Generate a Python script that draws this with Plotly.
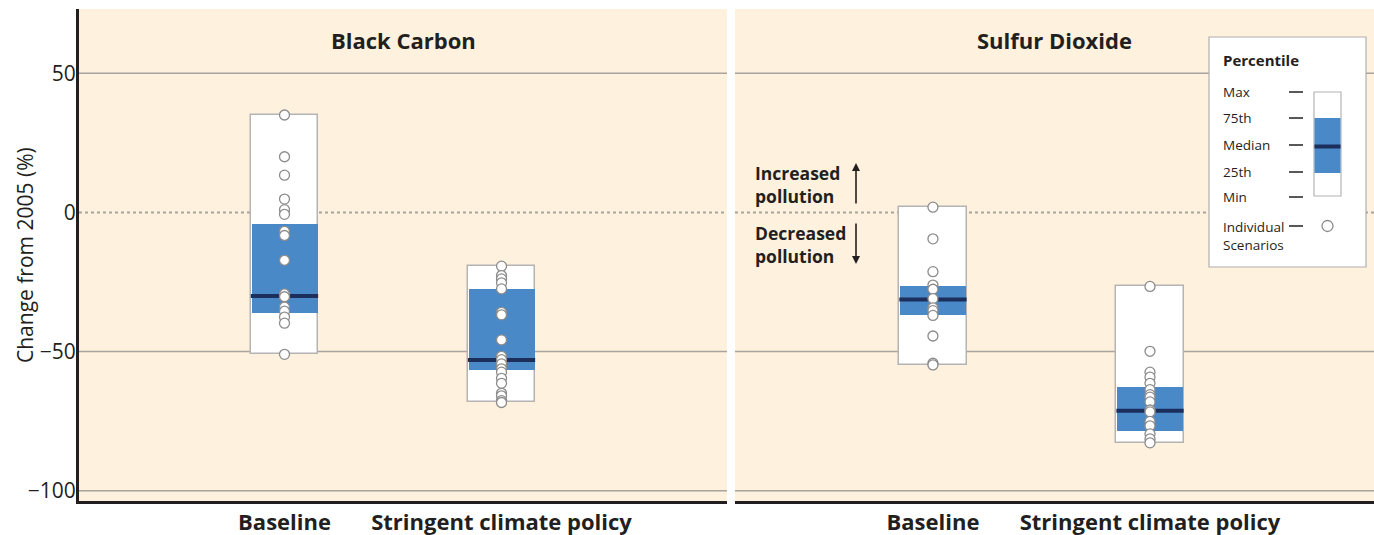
import plotly.graph_objects as go

# ---- data -------------------------------------------------------------
PANELS = ["Black Carbon", "Sulfur Dioxide"]
CATEGORIES = ["Baseline", "Stringent climate policy"]
Y_TITLE = "Change from 2005 (%)"

# percentile summaries per panel: [baseline, stringent]
BC_MIN = [-51, -68]
BC_P25 = [-36, -56.5]
BC_MED = [-30, -53]
BC_P75 = [-4, -27.5]
BC_MAX = [35, -19.3]

SO2_MIN = [-54.8, -82.8]
SO2_P25 = [-36.9, -78.7]
SO2_MED = [-31.3, -71.3]
SO2_P75 = [-26.4, -62.6]
SO2_MAX = [1.9, -26.6]

# individual scenarios
BC_BASELINE = [35, 20, 13.4, 4.8, 1.0, -0.7, -6.8, -8.3, -17.2, -29.3, -30.3,
               -34, -35.5, -37.6, -39.8, -51]
BC_STRINGENT = [-19.3, -22.7, -23.9, -25.3, -27.5, -35.9, -36.8, -45.8, -51.7,
                -52.9, -54.4, -56.2, -57.4, -59.6, -61.4, -65, -65.9, -67.6, -68.3]
SO2_BASELINE = [1.9, -9.5, -21.3, -26.1, -27.6, -31, -34.3, -35.3, -37, -44.4,
                -54.2, -54.8]
SO2_STRINGENT = [-26.6, -49.9, -57.4, -59.2, -61.4, -63.7, -65.5, -66.4, -68.1,
                 -71, -71.7, -75.1, -76.7, -79.6, -81.4, -82.8]

Y_TICKS = [-100, -50, 0, 50]
Y_TICK_TEXT = ["\u2212100", "\u221250", "0", "50"]
Y_RANGE = [-103.7, 73.1]

# ---- style ------------------------------------------------------------
FONT = "Open Sans"
TEXT = "#231f20"
CREAM = "#fef1dd"
BLUE = "#4a89c8"
NAVY = "#1c2f5c"
GRID = "#a8a49e"
DOT_EDGE = "#8c8c8c"
BOX_EDGE = "#b4b4b4"
BOX_W = 0.31

W, H = 1374, 535
ML, MR, MT, MB = 79, 0, 9, 34
PW, PH = W - ML - MR, H - MT - MB


def px(x):
    return (x - ML) / PW


def py(y):
    return (H - MB - y) / PH


fig = go.Figure()

panels = [
    ("x", "y", BC_MIN, BC_P25, BC_MED, BC_P75, BC_MAX, [BC_BASELINE, BC_STRINGENT]),
    ("x2", "y2", SO2_MIN, SO2_P25, SO2_MED, SO2_P75, SO2_MAX, [SO2_BASELINE, SO2_STRINGENT]),
]

for xa, ya, lo, q1, med, q3, hi, pts in panels:
    xs = list(range(len(CATEGORIES)))
    # full range (min to max) box
    fig.add_trace(go.Bar(
        x=xs, y=[h - l for h, l in zip(hi, lo)], base=lo, width=BOX_W,
        marker=dict(color="white", line=dict(color=BOX_EDGE, width=1.5)),
        xaxis=xa, yaxis=ya, showlegend=False, hoverinfo="skip"))
    # interquartile box
    fig.add_trace(go.Bar(
        x=xs, y=[b - a for b, a in zip(q3, q1)], base=q1, width=BOX_W - 0.006,
        marker=dict(color=BLUE, line=dict(width=0)),
        xaxis=xa, yaxis=ya, showlegend=False, hoverinfo="skip"))
    # median bars
    mx, my = [], []
    for i, m in enumerate(med):
        mx += [i - BOX_W / 2, i + BOX_W / 2, None]
        my += [m, m, None]
    fig.add_trace(go.Scatter(
        x=mx, y=my, mode="lines", line=dict(color=NAVY, width=4),
        xaxis=xa, yaxis=ya, showlegend=False, hoverinfo="skip"))
    # individual scenarios
    for i, vals in enumerate(pts):
        fig.add_trace(go.Scatter(
            x=[i] * len(vals), y=vals, mode="markers",
            marker=dict(size=10, color="white", line=dict(color=DOT_EDGE, width=1.3)),
            xaxis=xa, yaxis=ya, showlegend=False))

shapes = []
# horizontal reference lines behind the boxes
for xr, yr in [("x domain", "y"), ("x2 domain", "y2")]:
    for v in Y_TICKS:
        shapes.append(dict(
            type="line", xref=xr, yref=yr, x0=0, x1=1, y0=v, y1=v, layer="below",
            line=dict(color=GRID, width=1.5 if v != 0 else 2,
                      dash="dot" if v == 0 else "solid")))

# key box
shapes.append(dict(type="rect", xref="paper", yref="paper",
                   x0=px(1209), x1=px(1366), y0=py(267), y1=py(37),
                   fillcolor="white", line=dict(color="#b0b0b0", width=1.2)))
shapes.append(dict(type="rect", xref="paper", yref="paper",
                   x0=px(1314), x1=px(1341), y0=py(196), y1=py(92),
                   fillcolor="white", line=dict(color=BOX_EDGE, width=1.2)))
shapes.append(dict(type="rect", xref="paper", yref="paper",
                   x0=px(1314.5), x1=px(1340.5), y0=py(173), y1=py(118),
                   fillcolor=BLUE, line=dict(width=0)))
shapes.append(dict(type="line", xref="paper", yref="paper",
                   x0=px(1314.5), x1=px(1340.5), y0=py(146.5), y1=py(146.5),
                   line=dict(color=NAVY, width=4)))
KEY_ROWS = [("Max", 92), ("75th", 118), ("Median", 145), ("25th", 172), ("Min", 197)]
for _, yy in KEY_ROWS + [("", 226)]:
    shapes.append(dict(type="line", xref="paper", yref="paper",
                       x0=px(1289), x1=px(1303), y0=py(yy), y1=py(yy),
                       line=dict(color=TEXT, width=1.5)))
shapes.append(dict(type="circle", xref="paper", yref="paper",
                   x0=px(1322), x1=px(1333), y0=py(231.5), y1=py(220.5),
                   fillcolor="white", line=dict(color=DOT_EDGE, width=1.3)))

annotations = []
for xr, title in [("x domain", PANELS[0]), ("x2 domain", PANELS[1])]:
    annotations.append(dict(
        xref=xr, yref="paper", x=0.5, y=py(39.5), text=f"<b>{title}</b>",
        showarrow=False, xanchor="center", yanchor="middle",
        font=dict(family=FONT, size=22, color=TEXT)))

# y-axis title
annotations.append(dict(
    xref="paper", yref="paper", x=px(25), y=py(255), text=Y_TITLE, textangle=-90,
    showarrow=False, xanchor="center", yanchor="middle",
    font=dict(family=FONT, size=21, color=TEXT)))

annotations.append(dict(
    xref="paper", yref="paper", x=px(1221), y=py(60), text="<b>Percentile</b>",
    showarrow=False, xanchor="left", yanchor="middle",
    font=dict(family=FONT, size=15, color=TEXT)))
for label, yy in KEY_ROWS:
    annotations.append(dict(
        xref="paper", yref="paper", x=px(1221), y=py(yy), text=label,
        showarrow=False, xanchor="left", yanchor="middle",
        font=dict(family=FONT, size=13.5, color=TEXT)))
annotations.append(dict(
    xref="paper", yref="paper", x=px(1221), y=py(236), text="Individual<br>Scenarios",
    showarrow=False, xanchor="left", yanchor="middle", align="left",
    font=dict(family=FONT, size=13.5, color=TEXT)))

# increased / decreased pollution note
for txt, yc in [("Increased<br>pollution", 185), ("Decreased<br>pollution", 245)]:
    annotations.append(dict(
        xref="paper", yref="paper", x=px(753), y=py(yc), text=f"<b>{txt}</b>",
        showarrow=False, xanchor="left", yanchor="middle", align="left",
        font=dict(family=FONT, size=17.5, color=TEXT)))
annotations.append(dict(
    xref="paper", yref="paper", x=px(856), y=py(163), ax=0, ay=42,
    text="", showarrow=True, arrowhead=2, arrowsize=1, arrowwidth=1.6,
    arrowcolor=TEXT))
annotations.append(dict(
    xref="paper", yref="paper", x=px(856), y=py(264), ax=0, ay=-42,
    text="", showarrow=True, arrowhead=2, arrowsize=1, arrowwidth=1.6,
    arrowcolor=TEXT))

axis_font = dict(family=FONT, size=21, color=TEXT)
cat_font = dict(family=FONT, size=22, color=TEXT)

# panel extents in pixels: left 79..727, right 735..1374
fig.update_layout(
    width=W, height=H,
    margin=dict(l=ML, r=MR, t=MT, b=MB),
    paper_bgcolor="white", plot_bgcolor=CREAM,
    barmode="overlay", bargap=0,
    shapes=shapes, annotations=annotations,
    xaxis=dict(domain=[0, 648 / PW], range=[-0.947, 2.039],
               tickvals=[0, 1], ticktext=[f"<b>{c}</b>" for c in CATEGORIES],
               tickfont=cat_font, showgrid=False, zeroline=False,
               showline=True, linecolor=TEXT, linewidth=3, ticks="", ticklen=0),
    xaxis2=dict(domain=[656 / PW, 1], range=[-0.912, 2.032],
                tickvals=[0, 1], ticktext=[f"<b>{c}</b>" for c in CATEGORIES],
                tickfont=cat_font, showgrid=False, zeroline=False,
                showline=True, linecolor=TEXT, linewidth=3, ticks="", ticklen=0),
    yaxis=dict(range=Y_RANGE, tickvals=Y_TICKS, ticktext=Y_TICK_TEXT,
               tickfont=axis_font, showgrid=False, zeroline=False, showline=True,
               linecolor=TEXT, linewidth=3, ticks="", ticklabelstandoff=-4),
    yaxis2=dict(range=Y_RANGE, anchor="x2", showticklabels=False,
                showgrid=False, zeroline=False, showline=False),
    font=dict(family=FONT, color=TEXT),
)

fig.write_html("out.html")
